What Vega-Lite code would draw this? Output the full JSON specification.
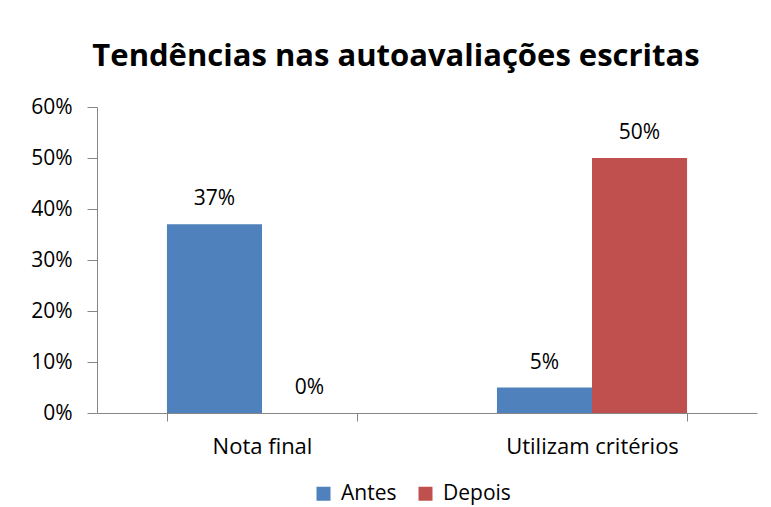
{
  "$schema": "https://vega.github.io/schema/vega-lite/v6.json",
  "width": 660,
  "height": 306,
  "autosize": {"type": "none"},
  "padding": {"left": 97, "top": 107, "right": 14, "bottom": 94},
  "background": "white",
  "title": {
    "text": "Tendências nas autoavaliações escritas",
    "font": "Open Sans",
    "fontSize": 31,
    "fontWeight": "bold",
    "color": "#000000",
    "anchor": "middle",
    "dx": -31,
    "offset": 23
  },
  "data": {
    "values": [
      {"cat": "Nota final", "serie": "Antes", "v": 0.37},
      {"cat": "Nota final", "serie": "Depois", "v": 0.0},
      {"cat": "Utilizam critérios", "serie": "Antes", "v": 0.05},
      {"cat": "Utilizam critérios", "serie": "Depois", "v": 0.5}
    ]
  },
  "encoding": {
    "x": {
      "field": "cat",
      "type": "nominal",
      "sort": null,
      "scale": {"paddingInner": 0.424, "paddingOuter": 0.212},
      "axis": {
        "title": null,
        "labelAngle": 0,
        "labelFont": "Open Sans",
        "labelFontSize": 22,
        "labelColor": "#000000",
        "labelPadding": 15,
        "domainColor": "#868686",
        "tickColor": "#868686",
        "tickSize": 8,
        "tickBand": "extent"
      }
    },
    "xOffset": {"field": "serie", "type": "nominal", "sort": ["Antes", "Depois"], "scale": {"paddingInner": 0, "paddingOuter": 0}},
    "y": {
      "field": "v",
      "type": "quantitative",
      "scale": {"domain": [0, 0.6], "nice": false},
      "axis": {
        "title": null,
        "format": ".0%",
        "values": [0, 0.1, 0.2, 0.3, 0.4, 0.5, 0.6],
        "grid": false,
        "labelFont": "Open Sans",
        "labelFontSize": 21,
        "labelColor": "#000000",
        "labelPadding": 15,
        "domainColor": "#868686",
        "tickColor": "#868686",
        "tickSize": 10
      }
    }
  },
  "layer": [
    {
      "mark": {"type": "bar"},
      "encoding": {
        "color": {
          "field": "serie",
          "type": "nominal",
          "sort": ["Antes", "Depois"],
          "scale": {"domain": ["Antes", "Depois"], "range": ["#4F81BD", "#C0504D"]},
          "legend": {
            "title": null,
            "orient": "none",
            "direction": "horizontal",
            "legendX": 216,
            "legendY": 376,
            "symbolType": "square",
            "symbolSize": 196,
            "symbolStrokeWidth": 0,
            "labelFont": "Open Sans",
            "labelFontSize": 21,
            "labelColor": "#000000",
            "columnPadding": 18,
            "labelOffset": 7
          }
        }
      }
    },
    {
      "mark": {"type": "text", "baseline": "middle", "dy": -25, "font": "Open Sans", "fontSize": 21, "color": "#000000"},
      "encoding": {
        "text": {"field": "v", "type": "quantitative", "format": ".0%"}
      }
    }
  ],
  "config": {"view": {"stroke": null}}
}
